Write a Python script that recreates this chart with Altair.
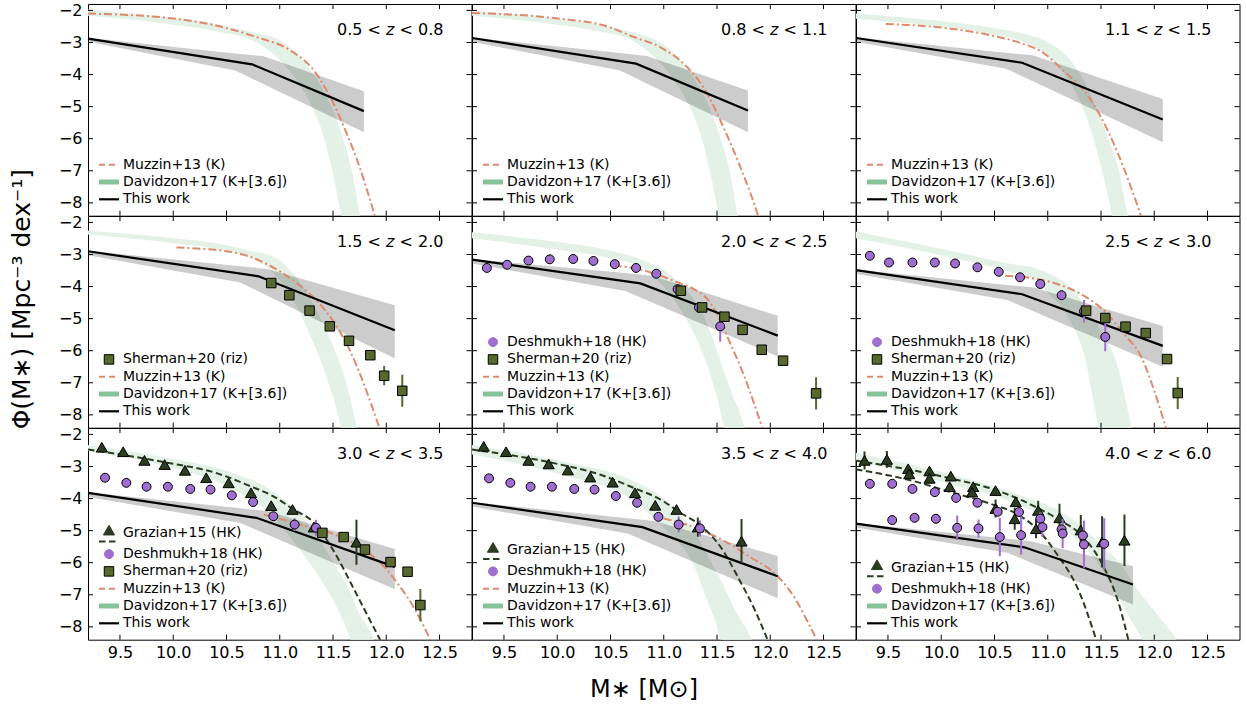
import altair as alt
import pandas as pd

# ---------------- panel geometry / axes ----------------
W, H = 383.5, 211.7
X_DOMAIN = [9.2, 12.8]
Y_DOMAIN = [-8.4, -1.8]
X_TICKS = [9.5, 10.0, 10.5, 11.0, 11.5, 12.0, 12.5]
Y_TICKS = [-2, -3, -4, -5, -6, -7, -8]
FONT = "DejaVu Sans"

Z_LO = ["0.5", "0.8", "1.1", "1.5", "2.0", "2.5", "3.0", "3.5", "4.0"]
Z_HI = ["0.8", "1.1", "1.5", "2.0", "2.5", "3.0", "3.5", "4.0", "6.0"]

# ---------------- This work: broken power law and its band ----------------
TW_X = [
    [9.2, 10.74, 11.79], [9.2, 10.74, 11.79], [9.2, 10.76, 12.08],
    [9.2, 10.80, 12.08], [9.2, 10.78, 12.07], [9.2, 10.76, 12.08],
    [9.2, 10.78, 12.08], [9.2, 10.80, 12.07], [9.2, 10.78, 11.80],
]
TW_Y = [
    [-2.88, -3.68, -5.14], [-2.86, -3.66, -5.12], [-2.86, -3.63, -5.40],
    [-2.90, -3.68, -5.36], [-3.16, -3.90, -5.53], [-3.49, -4.24, -5.85],
    [-3.82, -4.60, -6.13], [-4.13, -4.89, -6.42], [-4.78, -5.52, -6.68],
]
BAND_X = [
    [9.2, 10.58, 10.85, 11.79], [9.2, 10.59, 10.84, 11.79], [9.2, 10.61, 10.86, 12.08],
    [9.2, 10.63, 10.88, 12.08], [9.2, 10.64, 10.89, 12.07], [9.2, 10.62, 10.87, 12.08],
    [9.2, 10.63, 10.88, 12.08], [9.2, 10.66, 10.91, 12.07], [9.2, 10.62, 10.84, 11.80],
]
BAND_UP = [
    [-2.85, -3.34, -3.43, -4.52], [-2.84, -3.33, -3.42, -4.50], [-2.84, -3.32, -3.40, -4.76],
    [-2.88, -3.37, -3.45, -4.58], [-3.14, -3.58, -3.66, -4.91], [-3.47, -3.95, -4.03, -5.23],
    [-3.80, -4.30, -4.39, -5.57], [-4.11, -4.61, -4.70, -5.79], [-4.76, -5.25, -5.33, -6.11],
]
BAND_LO = [
    [-2.98, -3.87, -4.30, -5.80], [-2.98, -3.87, -4.28, -5.80], [-2.98, -3.82, -4.21, -6.11],
    [-3.02, -3.87, -4.28, -6.24], [-3.28, -4.14, -4.50, -6.18], [-3.60, -4.42, -4.78, -6.50],
    [-3.95, -4.76, -5.12, -6.83], [-4.25, -5.09, -5.45, -7.11], [-4.90, -5.69, -5.99, -7.30],
]

# ---------------- Muzzin+13 (K) ----------------
MUZ_X = [
    [9.2, 9.94, 10.4, 10.78, 11.10, 11.32, 11.49, 11.63, 11.75, 11.85, 11.9],
    [9.2, 10.03, 10.45, 10.72, 10.97, 11.22, 11.41, 11.56, 11.72, 11.88, 11.9],
    [9.48, 10.09, 10.5, 10.72, 10.97, 11.16, 11.34, 11.5, 11.66, 11.78, 11.88],
    [10.03, 10.56, 10.88, 11.13, 11.35, 11.5, 11.66, 11.79, 11.94],
    [10.53, 10.74, 10.93, 11.13, 11.31, 11.41, 11.5, 11.6, 11.75, 11.93],
    [10.6, 10.81, 11.09, 11.34, 11.53, 11.72, 11.88, 12.0, 12.1, 12.13],
    [10.85, 11.0, 11.2, 11.5, 11.75, 12.0, 12.13, 12.25, 12.34, 12.42],
    [11.0, 11.2, 11.4, 11.6, 11.8, 12.07, 12.23, 12.38, 12.45],
    None,
]
MUZ_Y = [
    [-2.10, -2.23, -2.47, -2.83, -3.25, -3.87, -4.81, -5.85, -6.89, -7.93, -8.5],
    [-2.08, -2.26, -2.48, -2.83, -3.15, -3.77, -4.60, -5.64, -6.89, -8.34, -8.55],
    [-2.42, -2.57, -2.80, -2.99, -3.35, -3.92, -4.50, -5.33, -6.47, -7.50, -8.45],
    [-2.78, -2.93, -3.30, -3.82, -4.45, -5.07, -6.00, -7.04, -8.45],
    [-3.35, -3.44, -3.62, -3.87, -4.13, -4.39, -4.86, -5.59, -6.75, -8.45],
    [-3.66, -3.72, -3.92, -4.29, -4.76, -5.49, -6.21, -7.25, -8.29, -8.6],
    [-4.50, -4.63, -4.82, -5.10, -5.50, -6.20, -6.75, -7.35, -7.90, -8.45],
    [-4.62, -4.80, -5.05, -5.38, -5.80, -6.42, -7.10, -8.03, -8.5],
    None,
]

# ---------------- Davidzon+17 (K+[3.6]) band ----------------
DAV_X = [
    [9.2, 9.8, 10.4, 10.75, 10.97, 11.13, 11.28, 11.41, 11.5, 11.6, 11.69, 11.75, 11.8],
    [9.2, 9.8, 10.4, 10.7, 10.91, 11.07, 11.22, 11.35, 11.44, 11.54, 11.63, 11.69, 11.75],
    [9.2, 9.8, 10.4, 10.78, 11.03, 11.2, 11.34, 11.47, 11.56, 11.66, 11.75, 11.82],
    [9.2, 9.94, 10.4, 10.72, 10.98, 11.13, 11.28, 11.44, 11.57, 11.6, 11.72, 11.8],
    [9.2, 10.03, 10.5, 10.78, 11.03, 11.22, 11.38, 11.5, 11.56, 11.63, 11.75, 11.82],
    [9.2, 10.09, 10.66, 10.91, 11.03, 11.16, 11.19, 11.34, 11.47, 11.5, 11.66, 11.78, 11.85],
    [9.2, 9.94, 10.56, 10.88, 11.19, 11.38, 11.57, 11.66, 11.72, 11.88, 11.95],
    [9.2, 10.03, 10.72, 11.03, 11.28, 11.41, 11.47, 11.53, 11.66, 11.82, 11.9],
    [9.2, 10.09, 10.72, 11.19, 11.5, 11.72, 11.81, 11.88, 12.03, 12.2, 12.3],
]
DAV_UP = [
    [-1.97, -2.16, -2.42, -2.68, -2.88, -3.25, -3.82, -4.49, -5.12, -6.05, -7.2, -8.35, -9.3],
    [-2.00, -2.18, -2.45, -2.68, -2.90, -3.25, -3.82, -4.49, -5.12, -6.05, -7.2, -8.35, -9.3],
    [-2.10, -2.27, -2.50, -2.73, -3.04, -3.50, -4.20, -5.14, -5.93, -6.89, -8.34, -9.3],
    [-2.26, -2.47, -2.65, -2.88, -3.14, -3.61, -4.34, -5.38, -6.45, -6.73, -8.3, -9.4],
    [-2.31, -2.62, -2.88, -3.14, -3.56, -4.13, -4.96, -6.00, -6.60, -7.25, -8.29, -9.2],
    [-2.28, -2.88, -3.30, -3.45, -3.62, -3.87, -3.95, -4.55, -5.20, -5.38, -6.52, -8.29, -9.3],
    [-2.33, -2.73, -3.20, -3.66, -4.50, -5.33, -6.37, -6.90, -7.41, -8.35, -9.0],
    [-2.33, -2.83, -3.46, -4.08, -5.02, -5.75, -6.16, -6.50, -7.41, -8.35, -9.0],
    [-2.57, -3.25, -3.87, -4.55, -5.43, -6.20, -6.68, -7.00, -7.62, -8.35, -9.0],
]
DAV_LO = [
    [-2.17, -2.36, -2.65, -2.95, -3.45, -4.05, -4.85, -5.9, -7.1, -8.7, -9.5, -9.5, -9.5],
    [-2.17, -2.36, -2.66, -2.93, -3.45, -4.05, -4.85, -5.9, -7.1, -8.7, -9.5, -9.5, -9.5],
    [-2.26, -2.44, -2.70, -2.99, -3.51, -4.20, -5.12, -6.47, -7.70, -9.2, -9.5, -9.5],
    [-2.38, -2.62, -2.83, -3.09, -3.72, -4.44, -5.48, -6.83, -8.30, -8.7, -9.5, -9.5],
    [-2.49, -2.86, -3.12, -3.40, -4.13, -5.06, -6.21, -7.46, -8.29, -9.2, -9.5, -9.5],
    [-2.49, -3.09, -3.56, -3.87, -4.30, -4.76, -4.95, -6.10, -8.29, -8.8, -9.5, -9.5, -9.5],
    [-2.52, -3.00, -3.70, -4.40, -5.60, -6.50, -7.62, -8.35, -8.9, -9.5, -9.5],
    [-2.63, -3.25, -4.08, -5.02, -6.06, -7.20, -7.70, -8.35, -9.5, -9.5, -9.5],
    [-2.83, -3.56, -4.19, -5.02, -6.16, -7.41, -7.95, -8.35, -9.5, -9.5, -9.5],
]

# ---------------- Sherman+20 (riz) ----------------
SHE_X = [None, None, None,
         [10.92, 11.09, 11.28, 11.47, 11.65, 11.85, 11.98, 12.15],
         [11.16, 11.36, 11.57, 11.74, 11.92, 12.12, 12.43],
         [11.36, 11.54, 11.73, 11.92, 12.12, 12.22],
         [11.40, 11.60, 11.80, 12.04, 12.20, 12.32],
         None, None]
SHE_Y = [None, None, None,
         [-3.89, -4.27, -4.75, -5.24, -5.69, -6.14, -6.78, -7.25],
         [-4.13, -4.65, -4.94, -5.35, -5.97, -6.31, -7.33],
         [-4.75, -4.98, -5.25, -5.45, -6.26, -7.32],
         [-5.07, -5.20, -5.59, -5.98, -6.28, -7.32],
         None, None]
SHE_E = [None, None, None,
         [0.03, 0.03, 0.03, 0.04, 0.05, 0.15, 0.30, 0.50],
         [0.03, 0.03, 0.03, 0.04, 0.06, 0.12, 0.50],
         [0.04, 0.04, 0.04, 0.05, 0.12, 0.50],
         [0.04, 0.04, 0.10, 0.05, 0.12, 0.50],
         None, None]

# ---------------- Deshmukh+18 (HK) ----------------
DES_X = [None, None, None, None,
         [9.34, 9.53, 9.73, 9.93, 10.15, 10.34, 10.54, 10.74, 10.93, 11.13, 11.33, 11.53],
         [9.33, 9.51, 9.73, 9.94, 10.13, 10.34, 10.54, 10.74, 10.93, 11.13, 11.34, 11.54],
         [9.36, 9.56, 9.75, 9.95, 10.16, 10.35, 10.55, 10.75, 10.94, 11.14, 11.34],
         [9.36, 9.56, 9.75, 9.95, 10.16, 10.35, 10.55, 10.75, 10.95, 11.14, 11.34],
         [9.33, 9.54, 9.73, 9.94, 10.14, 10.34, 10.53, 10.73, 10.93, 11.13, 11.33,
          9.54, 9.75, 9.95, 10.15, 10.35, 10.55, 10.75, 10.95, 11.14, 11.34, 11.53]]
DES_Y = [None, None, None, None,
         [-3.42, -3.32, -3.19, -3.15, -3.14, -3.20, -3.30, -3.42, -3.60, -4.08, -4.65, -5.24],
         [-3.04, -3.25, -3.25, -3.25, -3.28, -3.40, -3.54, -3.71, -3.92, -4.27, -4.77, -5.57],
         [-3.35, -3.51, -3.63, -3.63, -3.70, -3.72, -3.90, -4.11, -4.55, -4.81, -4.91],
         [-3.37, -3.51, -3.63, -3.63, -3.70, -3.72, -3.92, -4.13, -4.57, -4.81, -4.93],
         [-3.54, -3.54, -3.70, -3.80, -3.98, -4.13, -4.41, -4.42, -4.63, -4.96, -5.15,
          -4.67, -4.60, -4.63, -4.91, -4.93, -5.20, -5.14, -4.89, -5.09, -5.43, -5.41]]
DES_E = [None, None, None, None,
         [0.02, 0.02, 0.02, 0.02, 0.02, 0.02, 0.03, 0.03, 0.04, 0.06, 0.12, 0.48],
         [0.02, 0.02, 0.02, 0.02, 0.02, 0.02, 0.03, 0.03, 0.04, 0.15, 0.35, 0.45],
         [0.03, 0.03, 0.03, 0.03, 0.03, 0.03, 0.04, 0.06, 0.10, 0.20, 0.25],
         [0.03, 0.03, 0.03, 0.03, 0.03, 0.03, 0.04, 0.10, 0.10, 0.25, 0.25],
         [0.04, 0.04, 0.04, 0.05, 0.05, 0.06, 0.08, 0.10, 0.20, 0.10, 0.10,
          0.15, 0.12, 0.15, 0.38, 0.28, 0.60, 0.60, 0.30, 0.45, 0.75, 0.80]]

# ---------------- Grazian+15 (HK) ----------------
GRA_X = [None] * 6 + [
    [9.33, 9.53, 9.73, 9.92, 10.11, 10.31, 10.52, 10.73, 10.92, 11.12, 11.32, 11.72],
    [9.31, 9.52, 9.73, 9.92, 10.10, 10.31, 10.52, 10.73, 10.92, 11.12, 11.32, 11.73],
    [9.28, 9.49, 9.69, 9.70, 9.89, 9.89, 10.09, 10.08, 10.30, 10.29, 10.51, 10.51,
     10.70, 10.69, 10.91, 10.89, 11.11, 11.31, 11.51, 11.72],
]
GRA_Y = [None] * 6 + [
    [-2.40, -2.54, -2.81, -2.94, -3.12, -3.35, -3.51, -3.82, -4.22, -4.34, -4.89, -5.36],
    [-2.37, -2.54, -2.81, -2.92, -3.11, -3.33, -3.49, -3.82, -4.21, -4.34, -4.89, -5.33],
    [-2.81, -2.78, -3.07, -3.23, -3.14, -3.37, -3.30, -3.63, -3.63, -3.80, -3.75, -4.31,
     -4.10, -4.63, -4.37, -4.94, -4.60, -4.98, -5.35, -5.30],
]
GRA_E = [None] * 6 + [
    [0.03, 0.03, 0.03, 0.03, 0.03, 0.04, 0.04, 0.05, 0.06, 0.08, 0.12, 0.70],
    [0.03, 0.03, 0.03, 0.03, 0.03, 0.04, 0.04, 0.05, 0.06, 0.08, 0.30, 0.69],
    [0.28, 0.26, 0.05, 0.05, 0.10, 0.05, 0.05, 0.05, 0.05, 0.05, 0.10, 0.28,
     0.10, 0.34, 0.30, 0.30, 0.44, 0.47, 0.80, 0.80],
]
GRA_FIT_X = [None] * 6 + [
    [[9.2, 9.94, 10.4, 10.72, 10.94, 11.13, 11.32, 11.5, 11.69, 11.82, 11.95]],
    [[9.2, 10.03, 10.4, 10.72, 10.97, 11.16, 11.35, 11.54, 11.70, 11.86, 11.98]],
    [[9.2, 9.7, 10.1, 10.5, 10.91, 11.1, 11.34, 11.53, 11.66, 11.76],
     [9.2, 9.7, 10.09, 10.45, 10.72, 10.9, 11.09, 11.28, 11.46]],
]
GRA_FIT_Y = [None] * 6 + [
    [[-2.47, -2.88, -3.20, -3.61, -3.93, -4.34, -4.75, -5.60, -6.78, -7.62, -8.45]],
    [[-2.47, -2.94, -3.25, -3.67, -4.03, -4.45, -4.85, -5.54, -6.47, -7.51, -8.45]],
    [[-2.82, -3.10, -3.38, -3.72, -4.30, -4.65, -5.22, -6.16, -7.20, -8.45],
     [-3.09, -3.42, -3.80, -4.15, -4.50, -4.95, -5.75, -6.79, -8.45]],
]

LEGENDS = [
    ["muzzin", "davidzon", "this"],
    ["muzzin", "davidzon", "this"],
    ["muzzin", "davidzon", "this"],
    ["sherman", "muzzin", "davidzon", "this"],
    ["deshmukh", "sherman", "muzzin", "davidzon", "this"],
    ["deshmukh", "sherman", "muzzin", "davidzon", "this"],
    ["grazian", "deshmukh", "sherman", "muzzin", "davidzon", "this"],
    ["grazian", "deshmukh", "muzzin", "davidzon", "this"],
    ["grazian", "deshmukh", "davidzon", "this"],
]
LABELS = {
    "grazian": "Grazian+15 (HK)", "deshmukh": "Deshmukh+18 (HK)",
    "sherman": "Sherman+20 (riz)", "muzzin": "Muzzin+13 (K)",
    "davidzon": "Davidzon+17 (K+[3.6])", "this": "This work",
}

# ---------------- styles ----------------
C_MUZ = "#df8a6b"
C_DAV = "#e3f1e7"
C_DAV_LEG = "#84c497"
C_DES = "#a06dd0"
C_SHE = "#58692f"
C_GRA = "#2b3d20"
DASH_MUZ = [8, 3, 2, 3]
DASH_GRA = [6.5, 3.5]
ONE = pd.DataFrame({"k": [0]})


def panel(i):
    r, c = divmod(i, 3)
    xs = alt.Scale(domain=X_DOMAIN, nice=False, zero=False)
    ys = alt.Scale(domain=Y_DOMAIN, nice=False, zero=False)
    if r == 2:
        xt = dict(title="M∗ [M⊙]", titleX=171.5, titleY=56.5, titleBaseline="alphabetic",
                  titleFontSize=24, titleFontWeight="normal", titleFont=FONT,
                  titleColor="black") if c == 1 else dict(title=None)
        xaxis = alt.Axis(values=X_TICKS, format=".1f", ticks=False, domain=False, grid=False,
                         labelFontSize=16, labelPadding=5, labelFlush=False, labelOverlap=False,
                         labelFont=FONT, labelColor="black", **xt)
    else:
        xaxis = None
    if c == 0:
        yt = dict(title="Φ(M∗) [Mpc⁻³ dex⁻¹]", titleX=-67, titleY=82.7, titleBaseline="middle",
                  titleAngle=270, titleFontSize=25, titleFontWeight="normal", titleFont=FONT,
                  titleColor="black") if r == 1 else dict(title=None)
        yaxis = alt.Axis(values=Y_TICKS, format="d", ticks=False, domain=False, grid=False,
                         labelFontSize=16, labelPadding=6, labelFlush=False, labelOverlap=False,
                         labelFont=FONT, labelColor="black", **yt)
    else:
        yaxis = None

    def X(f):
        return alt.X(f, type="quantitative", scale=xs, axis=xaxis)

    def Y(f):
        return alt.Y(f, type="quantitative", scale=ys, axis=yaxis)

    L = []
    # Davidzon+17 band
    dav = pd.DataFrame({"x": DAV_X[i], "up": DAV_UP[i], "lo": DAV_LO[i]})
    L.append(alt.Chart(dav).mark_area(color=C_DAV, clip=True, interpolate="monotone")
             .encode(x=X("x"), y=Y("up"), y2=alt.Y2("lo")))
    # This work uncertainty band
    band = pd.DataFrame({"x": BAND_X[i], "up": BAND_UP[i], "lo": BAND_LO[i]})
    L.append(alt.Chart(band).mark_area(color="black", opacity=0.2, clip=True)
             .encode(x=X("x"), y=Y("up"), y2=alt.Y2("lo")))
    # Muzzin+13
    if MUZ_X[i] is not None:
        muz = pd.DataFrame({"x": MUZ_X[i], "y": MUZ_Y[i]})
        L.append(alt.Chart(muz).mark_line(color=C_MUZ, strokeWidth=2, strokeDash=DASH_MUZ,
                                          clip=True, interpolate="monotone")
                 .encode(x=X("x"), y=Y("y")))
    # Grazian+15 fits
    if GRA_FIT_X[i] is not None:
        for fx, fy in zip(GRA_FIT_X[i], GRA_FIT_Y[i]):
            g = pd.DataFrame({"x": fx, "y": fy})
            L.append(alt.Chart(g).mark_line(color=C_GRA, strokeWidth=2, strokeDash=DASH_GRA,
                                            clip=True, interpolate="monotone")
                     .encode(x=X("x"), y=Y("y")))
    # This work
    tw = pd.DataFrame({"x": TW_X[i], "y": TW_Y[i]})
    L.append(alt.Chart(tw).mark_line(color="black", strokeWidth=2.2).encode(x=X("x"), y=Y("y")))

    # data points with error bars
    def points(xv, yv, ev, color, shape, size):
        d = pd.DataFrame({"x": xv, "y": yv, "e": ev})
        d["lo"] = d["y"] - d["e"]
        d["hi"] = d["y"] + d["e"]
        bars = alt.Chart(d).mark_rule(color=color, strokeWidth=2, clip=True).encode(
            x=X("x"), y=Y("lo"), y2=alt.Y2("hi"))
        pts = alt.Chart(d).mark_point(shape=shape, size=size, filled=True, fill=color,
                                      stroke="black", strokeWidth=1, opacity=1,
                                      fillOpacity=1, strokeOpacity=1, clip=True).encode(
            x=X("x"), y=Y("y"))
        return [bars, pts]

    if GRA_X[i] is not None:
        L += points(GRA_X[i], GRA_Y[i], GRA_E[i], C_GRA, "triangle-up", 125)
    if DES_X[i] is not None:
        L += points(DES_X[i], DES_Y[i], DES_E[i], C_DES, "circle", 80)
    if SHE_X[i] is not None:
        L += points(SHE_X[i], SHE_Y[i], SHE_E[i], C_SHE, "square", 90)

    # inward ticks on all four sides
    tx = pd.DataFrame({"t": X_TICKS})
    ty = pd.DataFrame({"t": Y_TICKS})
    tick = dict(color="black", strokeWidth=1)
    L.append(alt.Chart(tx).mark_rule(**tick).encode(x=X("t"), y=alt.value(0), y2=alt.value(5)))
    L.append(alt.Chart(tx).mark_rule(**tick).encode(x=X("t"), y=alt.value(H - 5), y2=alt.value(H)))
    L.append(alt.Chart(ty).mark_rule(**tick).encode(y=Y("t"), x=alt.value(0), x2=alt.value(5)))
    L.append(alt.Chart(ty).mark_rule(**tick).encode(y=Y("t"), x=alt.value(W - 5), x2=alt.value(W)))

    # legend, stacked upward from the bottom row
    rows = {}
    yy = 195.3
    for n, k in enumerate(reversed(LEGENDS[i])):
        if n > 0:
            yy -= 21 if k == "grazian" else 17.3
        rows[k] = yy
    for k, yp in rows.items():
        L.append(alt.Chart(ONE).mark_text(text=LABELS[k], align="left", baseline="middle",
                                          fontSize=14, font=FONT, color="black")
                 .encode(x=alt.value(35), y=alt.value(yp)))
        if k == "muzzin":
            L.append(alt.Chart(ONE).mark_rule(color=C_MUZ, strokeWidth=2, strokeDash=[6, 4])
                     .encode(x=alt.value(11), x2=alt.value(31), y=alt.value(yp)))
        elif k == "davidzon":
            L.append(alt.Chart(ONE).mark_rule(color=C_DAV_LEG, strokeWidth=5)
                     .encode(x=alt.value(11), x2=alt.value(31), y=alt.value(yp)))
        elif k == "this":
            L.append(alt.Chart(ONE).mark_rule(color="black", strokeWidth=2.2)
                     .encode(x=alt.value(11), x2=alt.value(31), y=alt.value(yp)))
        elif k == "sherman":
            L.append(alt.Chart(ONE).mark_point(shape="square", size=90, filled=True, fill=C_SHE,
                                               stroke="black", strokeWidth=1, opacity=1)
                     .encode(x=alt.value(21), y=alt.value(yp)))
        elif k == "deshmukh":
            L.append(alt.Chart(ONE).mark_point(shape="circle", size=80, filled=True, fill=C_DES,
                                               stroke=C_DES, strokeWidth=1, opacity=1)
                     .encode(x=alt.value(21), y=alt.value(yp)))
        elif k == "grazian":
            L.append(alt.Chart(ONE).mark_point(shape="triangle-up", size=125, filled=True,
                                               fill=C_GRA, stroke=C_GRA, strokeWidth=1, opacity=1)
                     .encode(x=alt.value(21), y=alt.value(yp - 3)))
            L.append(alt.Chart(ONE).mark_rule(color=C_GRA, strokeWidth=2, strokeDash=DASH_GRA)
                     .encode(x=alt.value(11), x2=alt.value(31), y=alt.value(yp + 8.5)))

    # redshift range label: "lo < z < hi" with an italic z
    fs = 16
    w_right = (0.838 + 0.318 + 0.636 * 2 + 0.318) * fs
    gap = 0.318 * fs
    xr = W - 28
    xz = xr - w_right - gap
    xl = xz - 0.525 * fs - gap
    base = 31
    txt = dict(fontSize=fs, font=FONT, color="black", align="right", baseline="alphabetic")
    L.append(alt.Chart(ONE).mark_text(text="< " + Z_HI[i], **txt)
             .encode(x=alt.value(xr), y=alt.value(base)))
    L.append(alt.Chart(ONE).mark_text(text="z", fontStyle="italic", **txt)
             .encode(x=alt.value(xz), y=alt.value(base)))
    L.append(alt.Chart(ONE).mark_text(text=Z_LO[i] + " <", **txt)
             .encode(x=alt.value(xl), y=alt.value(base)))

    return alt.layer(*L).properties(width=W, height=H)


chart = (
    alt.concat(*[panel(i) for i in range(9)], columns=3, spacing=0, bounds="flush")
    .configure(font=FONT)
    .configure_view(stroke="black", strokeWidth=1)
    .configure_axis(titleFontWeight="normal", labelColor="black", titleColor="black")
    .properties(padding={"left": 8, "top": 1, "right": 5, "bottom": 5}, background="white")
)

chart.save("out.html", embed_options={"renderer": "svg", "actions": False})
